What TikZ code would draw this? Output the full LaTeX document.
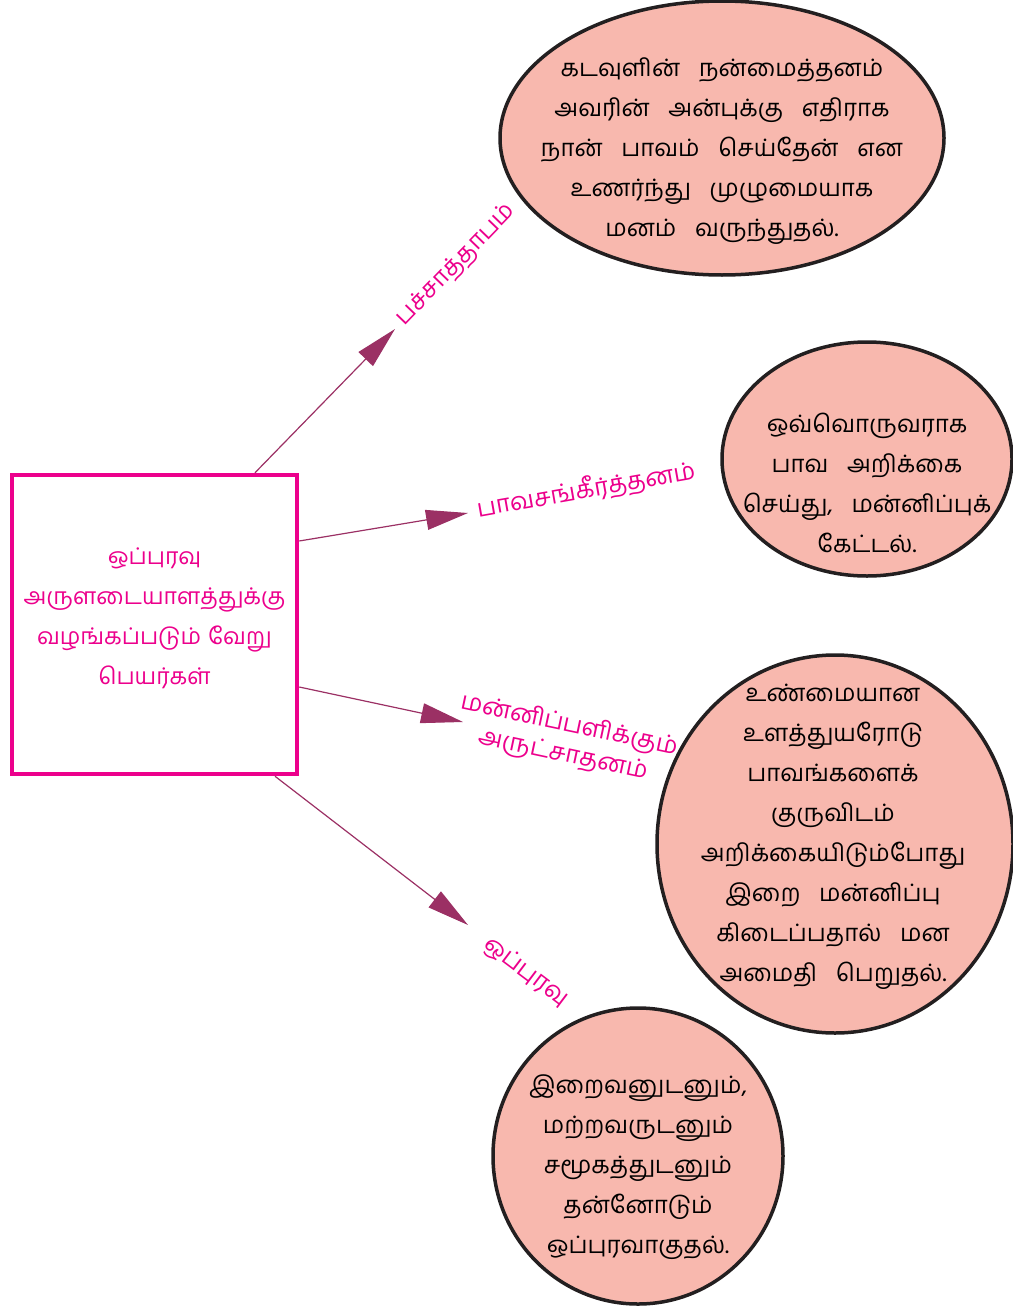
\documentclass[tikz,border=0pt]{standalone}
\usepackage{fontspec}
\newfontfamily\tamil[Script=Tamil]{Hind Madurai}
\newfontfamily\tamilwide[Script=Tamil, WordSpace=3.2]{Hind Madurai}
\newcommand\boxfont{\tamil\fontsize{23}{40}\selectfont\spaceskip=7pt\relax}
\usetikzlibrary{shapes.geometric,arrows.meta}
\definecolor{mag}{RGB}{236,0,140}
\definecolor{arr}{RGB}{155,48,100}
\definecolor{pinkfill}{RGB}{248,184,174}
\definecolor{edge}{RGB}{35,31,32}
\tikzset{
  bubble/.style={ellipse, draw=edge, line width=3.5pt, fill=pinkfill, inner sep=0pt},
  btext/.style={align=center, font=\tamilwide\fontsize{24}{40}\selectfont, text=black, inner sep=0pt},
  lab/.style={align=center, font=\tamil\fontsize{24.5}{30}\selectfont, text=mag, inner sep=0pt},
  conn/.style={draw=arr, line width=1.2pt, -{Triangle[length=42pt,width=20pt]}}
}
\begin{document}
\begin{tikzpicture}[x=1pt,y=-1pt]
\useasboundingbox (0,0) rectangle (1012,1309);
% central box
\node[draw=mag, line width=4.5pt, minimum width=285pt, minimum height=299pt, inner sep=0pt] (box) at (154.5,624.5) {};
\node[align=center, font=\boxfont, text=mag, inner sep=0pt] (boxt) at (154.5,618)
  {ஒப்புரவு\\அருளடையாளத்துக்கு\\வழங்கப்படும் வேறு\\பெயர்கள்};
% bubbles
\node[bubble, minimum width=444pt, minimum height=274pt] (e1) at (722,138) {};
\node[btext] (t1) at (722,151) {கடவுளின் நன்மைத்தனம்\\அவரின் அன்புக்கு எதிராக\\நான் பாவம் செய்தேன் என\\உணர்ந்து முழுமையாக\\மனம் வருந்துதல்.};
\node[bubble, minimum width=290pt, minimum height=234pt] (e2) at (867,459) {};
\node[btext] (t2) at (867,483) {ஒவ்வொருவராக\\பாவ அறிக்கை\\செய்து, மன்னிப்புக்\\கேட்டல்.};
\node[bubble, minimum width=356pt, minimum height=378pt] (e3) at (835,844) {};
\node[btext] (t3) at (833,837) {உண்மையான\\உளத்துயரோடு\\பாவங்களைக்\\குருவிடம்\\அறிக்கையிடும்போது\\இறை மன்னிப்பு\\கிடைப்பதால் மன\\அமைதி பெறுதல்.};
\node[bubble, minimum width=290pt, minimum height=296pt] (e4) at (638,1156) {};
\node[btext] (t4) at (638,1167) {இறைவனுடனும்,\\மற்றவருடனும்\\சமூகத்துடனும்\\தன்னோடும்\\ஒப்புரவாகுதல்.};
% labels
\node[lab, rotate=46] (l1) at (456,265) {பச்சாத்தாபம்};
\node[lab, rotate=10] (l2) at (586,490) {பாவசங்கீர்த்தனம்};
\node[lab, rotate=-12] (l3) at (566,740) {மன்னிப்பளிக்கும்\\அருட்சாதனம்};
\node[lab, rotate=-37] (l4) at (526,972) {ஒப்புரவு};
% arrow tips
\coordinate (a1) at (395,329);
\coordinate (a2) at (468,513);
\coordinate (a3) at (463,722);
\coordinate (a4) at (468,925);
\draw[conn] (box.north -| 255,0) -- (a1);
\draw[conn] (box.east |- 0,541) -- (a2);
\draw[conn] (box.east |- 0,687) -- (a3);
\draw[conn] (box.south -| 275,0) -- (a4);
\end{tikzpicture}
\end{document}
